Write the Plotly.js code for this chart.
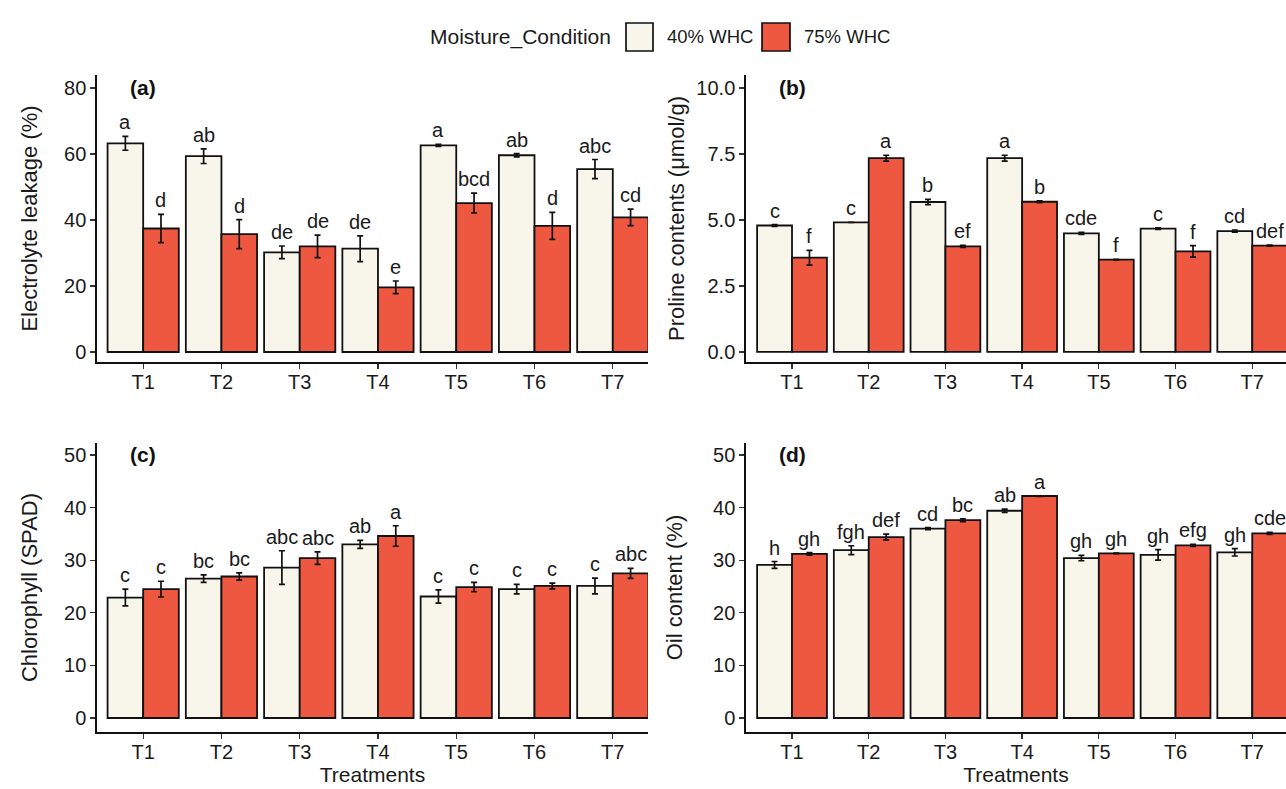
<!DOCTYPE html>
<html>
<head>
<meta charset="utf-8">
<script src="https://cdn.plot.ly/plotly-3.0.1.min.js"></script>
<style>html,body{margin:0;padding:0;background:#fff;}#chart{width:1286px;height:789px;}</style>
</head>
<body>
<div id="chart"></div>
<script>
// ---------- DATA ----------
const treatments = ['T1','T2','T3','T4','T5','T6','T7'];
const seriesNames = ['40% WHC','75% WHC'];

// (a) Electrolyte leakage (%)
const elec40 = [63.2, 59.3, 30.2, 31.3, 62.6, 59.6, 55.4];
const elec40Err = [2.1, 2.2, 1.9, 3.9, 0.3, 0.5, 2.9];
const elec75 = [37.4, 35.7, 32.0, 19.6, 45.1, 38.2, 40.8];
const elec75Err = [4.3, 4.4, 3.4, 1.9, 3.0, 4.1, 2.5];
const elec40Letters = ['a','ab','de','de','a','ab','abc'];
const elec75Letters = ['d','d','de','e','bcd','d','cd'];

// (b) Proline contents (µmol/g)
const pro40 = [4.79, 4.91, 5.68, 7.34, 4.49, 4.67, 4.58];
const pro40Err = [0.03, 0.0, 0.10, 0.11, 0.04, 0.03, 0.04];
const pro75 = [3.57, 7.34, 4.00, 5.69, 3.50, 3.81, 4.03];
const pro75Err = [0.28, 0.11, 0.04, 0.03, 0.01, 0.22, 0.02];
const pro40Letters = ['c','c','b','a','cde','c','cd'];
const pro75Letters = ['f','a','ef','b','f','f','def'];

// (c) Chlorophyll (SPAD)
const chl40 = [22.9, 26.5, 28.6, 33.0, 23.1, 24.5, 25.1];
const chl40Err = [1.6, 0.7, 3.2, 0.75, 1.25, 0.9, 1.5];
const chl75 = [24.5, 26.9, 30.4, 34.6, 24.9, 25.1, 27.5];
const chl75Err = [1.5, 0.7, 1.2, 1.95, 0.9, 0.55, 0.95];
const chl40Letters = ['c','bc','abc','ab','c','c','c'];
const chl75Letters = ['c','bc','abc','a','c','c','abc'];

// (d) Oil content (%)
const oil40 = [29.1, 31.9, 36.0, 39.4, 30.4, 31.0, 31.5];
const oil40Err = [0.65, 0.85, 0.2, 0.3, 0.5, 1.0, 0.7];
const oil75 = [31.2, 34.4, 37.6, 42.2, 31.3, 32.8, 35.1];
const oil75Err = [0.25, 0.55, 0.25, 0.05, 0.05, 0.2, 0.2];
const oil40Letters = ['h','fgh','cd','ab','gh','gh','gh'];
const oil75Letters = ['gh','def','bc','a','gh','efg','cde'];

// y tick values per panel
const ticksA = [0,20,40,60,80];
const ticksB = [0,2.5,5,7.5,10];
const ticksC = [0,10,20,30,40,50];
const ticksD = [0,10,20,30,40,50];

// ---------- STYLE ----------
const FONT = 'Liberation Sans, Arial, Helvetica, sans-serif';
const colLight = '#F8F5EB';
const colRed = '#EF5840';
const INK = '#1a1a1a';
const W = 1286, H = 789;
const bargap = 0.09;
const half = (1 - bargap) / 4; // centre offset of each bar in a group

const panels = [
  {id:'', label:'(a)', ytitle:'Electrolyte leakage (%)', v1:elec40, e1:elec40Err, v2:elec75, e2:elec75Err, l1:elec40Letters, l2:elec75Letters, ticks:ticksA, fmt:'d',
   xdom:[97,648], ydom:[75,362], xr:[-0.59,6.45], yr:[-3.03,83.9], standoff:20, xtitle:''},
  {id:'2', label:'(b)', ytitle:'Proline contents (μmol/g)', v1:pro40, e1:pro40Err, v2:pro75, e2:pro75Err, l1:pro40Letters, l2:pro75Letters, ticks:ticksB, fmt:'.1f',
   xdom:[746,1286], ydom:[75,362], xr:[-0.6,6.44], yr:[-0.38,10.49], standoff:6, xtitle:''},
  {id:'3', label:'(c)', ytitle:'Chlorophyll (SPAD)', v1:chl40, e1:chl40Err, v2:chl75, e2:chl75Err, l1:chl40Letters, l2:chl75Letters, ticks:ticksC, fmt:'d',
   xdom:[97,648], ydom:[443,732], xr:[-0.59,6.45], yr:[-2.66,52.28], standoff:20, xtitle:'Treatments'},
  {id:'4', label:'(d)', ytitle:'Oil content (%)', v1:oil40, e1:oil40Err, v2:oil75, e2:oil75Err, l1:oil40Letters, l2:oil75Letters, ticks:ticksD, fmt:'d',
   xdom:[746,1286], ydom:[443,732], xr:[-0.6,6.44], yr:[-2.66,52.28], standoff:24, xtitle:'Treatments'}
];

const traces = [];
const annotations = [];
const layout = {
  width: W, height: H,
  margin: {l:0, r:0, t:0, b:0},
  paper_bgcolor: '#ffffff', plot_bgcolor: '#ffffff',
  barmode: 'group', bargap: bargap, bargroupgap: 0,
  showlegend: false,
  font: {family: FONT, color: INK},
  annotations: annotations,
  shapes: []
};

panels.forEach(p => {
  const xa = 'x' + p.id, ya = 'y' + p.id;
  [[p.v1,p.e1,colLight,seriesNames[0]],[p.v2,p.e2,colRed,seriesNames[1]]].forEach(s => {
    traces.push({
      type:'bar', x: treatments, y: s[0], name: s[3], xaxis: xa, yaxis: ya,
      marker: {color: s[2], line: {color:'#111', width:1.8}},
      error_y: {type:'data', array: s[1], visible:true, color:'#111', thickness:1.7, width:3},
      hoverinfo:'x+y+name'
    });
  });
  layout['xaxis' + p.id] = {
    domain: [p.xdom[0]/W, p.xdom[1]/W], anchor: ya, type:'category', range: p.xr,
    showline:true, linecolor:'#111', linewidth:1.7, mirror:false,
    ticks:'outside', ticklen:5, tickwidth:1.3, tickcolor:'#333',
    showgrid:false, zeroline:false, fixedrange:true, ticklabelstandoff:-4,
    tickfont:{size:20, color:INK, family:FONT},
    title: p.xtitle ? {text:p.xtitle, font:{size:21, color:INK, family:FONT}, standoff:5} : {text:''}
  };
  layout['yaxis' + p.id] = {
    domain: [1 - p.ydom[1]/H, 1 - p.ydom[0]/H], anchor: xa, range: p.yr,
    tickvals: p.ticks, tickformat: p.fmt,
    showline:true, linecolor:'#111', linewidth:1.7,
    ticks:'outside', ticklen:5, tickwidth:1.3, tickcolor:'#333',
    showgrid:false, zeroline:false, fixedrange:true,
    tickfont:{size:20, color:INK, family:FONT},
    title: {text:p.ytitle, font:{size:22, color:INK, family:FONT}, standoff:p.standoff}
  };
  // significance letters
  [[p.v1,p.e1,p.l1,-half],[p.v2,p.e2,p.l2,half]].forEach(s => {
    s[0].forEach((v,i) => {
      annotations.push({
        xref: xa, yref: ya, x: i + s[3], y: v + s[1][i],
        text: s[2][i], showarrow:false, xanchor:'center', yanchor:'bottom', yshift:1,
        font:{size:20, color:INK, family:FONT}
      });
    });
  });
  // panel label
  annotations.push({
    xref: xa, yref: ya, x: 0, y: p.ticks[p.ticks.length-1],
    text: '<b>' + p.label + '</b>', showarrow:false, xanchor:'center', yanchor:'middle',
    font:{size:21, color:'#111', family:FONT}
  });
});

// ---------- custom legend (paper coords) ----------
const legY0 = 1 - 51/H, legY1 = 1 - 23/H, legYc = 1 - 37/H;
layout.shapes.push({type:'rect', xref:'paper', yref:'paper', x0:626/W, x1:653/W, y0:legY0, y1:legY1,
  fillcolor: colLight, line:{color:'#111', width:1.7}});
layout.shapes.push({type:'rect', xref:'paper', yref:'paper', x0:762/W, x1:790/W, y0:legY0, y1:legY1,
  fillcolor: colRed, line:{color:'#111', width:1.7}});
annotations.push({xref:'paper', yref:'paper', x:613/W, y:legYc, text:'Moisture_Condition', showarrow:false,
  xanchor:'right', yanchor:'middle', font:{size:21, color:INK, family:FONT}});
annotations.push({xref:'paper', yref:'paper', x:665/W, y:legYc, text:seriesNames[0], showarrow:false,
  xanchor:'left', yanchor:'middle', font:{size:18.5, color:INK, family:FONT}});
annotations.push({xref:'paper', yref:'paper', x:802/W, y:legYc, text:seriesNames[1], showarrow:false,
  xanchor:'left', yanchor:'middle', font:{size:18.5, color:INK, family:FONT}});

Plotly.newPlot('chart', traces, layout, {staticPlot:true, displayModeBar:false});
</script>
</body>
</html>
